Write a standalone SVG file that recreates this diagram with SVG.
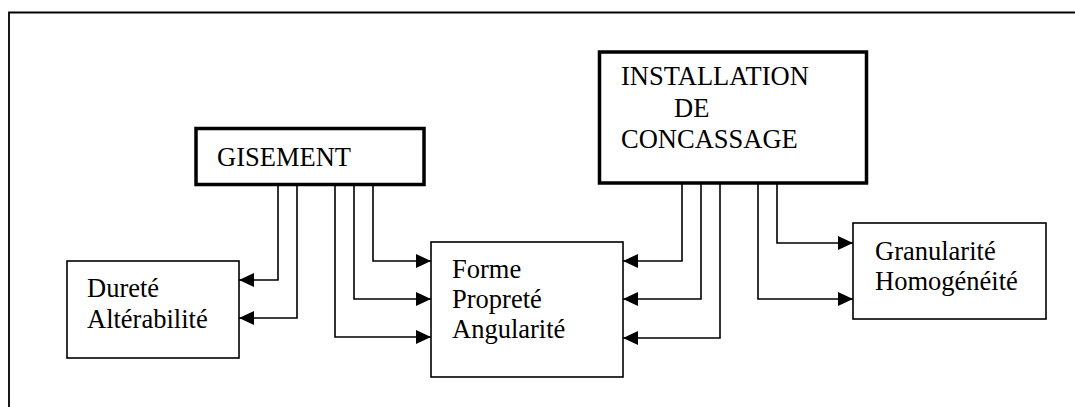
<svg xmlns="http://www.w3.org/2000/svg" width="1075" height="407" viewBox="0 0 1075 407">
<style>
text{font-family:"Liberation Serif","Times New Roman",serif;font-size:26.5px;fill:#000}
.thick{fill:#fff;stroke:#000;stroke-width:3.5}
.thin{fill:#fff;stroke:#000;stroke-width:1.6}
.conn path{fill:none;stroke:#000;stroke-width:1.6;marker-end:url(#arr)}
</style>
<defs>
<marker id="arr" markerUnits="userSpaceOnUse" markerWidth="15" markerHeight="14" refX="15" refY="7" orient="auto">
<path d="M0,0 L15,7 L0,14 z" fill="#000"/>
</marker>
</defs>
<rect width="1075" height="407" fill="#fff"/>
<path d="M9,407 V12.5 H1075" fill="none" stroke="#000" stroke-width="1.8"/>
<g class="conn" id="connectors">
<path d="M278,186 V280 H239"/>
<path d="M297,186 V318 H239"/>
<path d="M335,186 V337 H431"/>
<path d="M354,186 V299 H431"/>
<path d="M373,186 V261 H431"/>
<path d="M682,184 V261 H623"/>
<path d="M701,184 V299 H623"/>
<path d="M720,184 V338 H623"/>
<path d="M758,184 V299 H853"/>
<path d="M777,184 V243 H853"/>
</g>
<g id="gisement">
<rect class="thick" x="196" y="128.5" width="228" height="56"/>
<text x="217" y="166">GISEMENT</text>
</g>
<g id="installation">
<rect class="thick" x="599.5" y="52" width="267" height="131"/>
<text x="621" y="85">INSTALLATION</text>
<text x="674" y="117">DE</text>
<text x="621" y="148">CONCASSAGE</text>
</g>
<g id="durete">
<rect class="thin" x="67" y="261" width="172" height="97"/>
<text x="87" y="297">Dureté</text>
<text x="87" y="328">Altérabilité</text>
</g>
<g id="forme">
<rect class="thin" x="431" y="242" width="192" height="135"/>
<text x="452" y="278">Forme</text>
<text x="452" y="308">Propreté</text>
<text x="452" y="338">Angularité</text>
</g>
<g id="granularite">
<rect class="thin" x="853" y="223" width="193" height="96"/>
<text x="875" y="260">Granularité</text>
<text x="875" y="290">Homogénéité</text>
</g>
</svg>
